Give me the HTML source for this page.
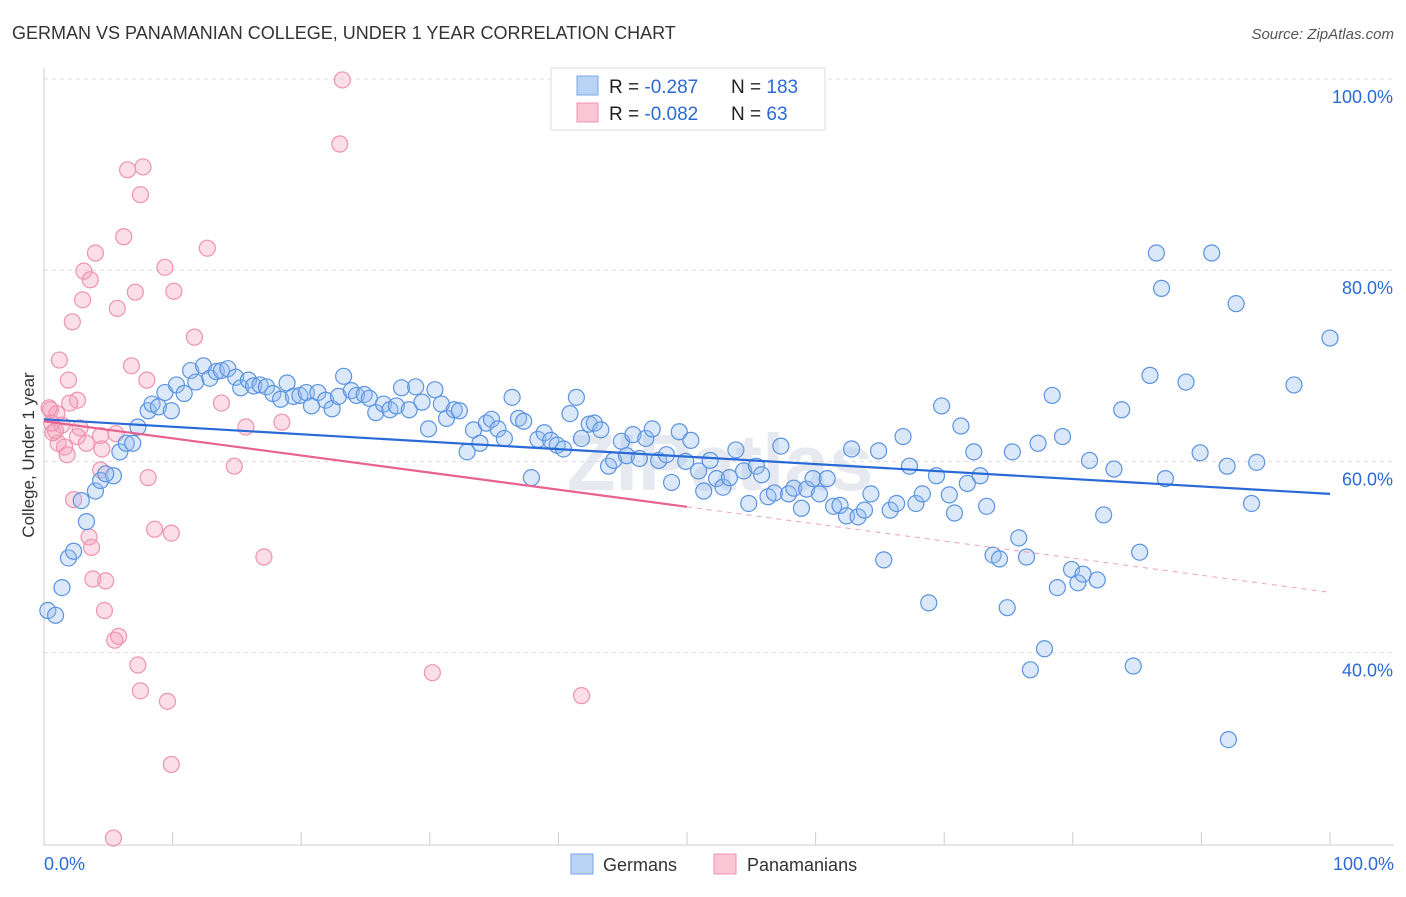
<!DOCTYPE html>
<html><head><meta charset="utf-8"><style>
body{margin:0;background:#fff;font-family:"Liberation Sans",sans-serif;}
svg text{font-family:"Liberation Sans",sans-serif;}
</style></head><body>
<svg id="chart" width="1406" height="892">
<text x="12" y="39" font-size="18" fill="#333">GERMAN VS PANAMANIAN COLLEGE, UNDER 1 YEAR CORRELATION CHART</text>
<text x="1394" y="39" font-size="15" fill="#555" font-style="italic" text-anchor="end">Source: ZipAtlas.com</text>
<text x="720" y="490" font-size="80" fill="#e6eaf0" text-anchor="middle" font-weight="bold">ZIPatlas</text>
<g id="grid"></g><g id="pts"></g><g id="lines"></g>
<text transform="translate(34,455) rotate(-90)" font-size="17" fill="#333" text-anchor="middle">College, Under 1 year</text>
<g>
<rect x="551" y="68" width="274" height="62" fill="#fff" stroke="#ddd"/>
<rect x="577" y="76" width="21" height="19" fill="#b9d3f5" stroke="#7aa6e6"/>
<rect x="577" y="103" width="21" height="19" fill="#f9c6d5" stroke="#ee93ae"/>
<text x="609" y="93" font-size="19" fill="#222">R = <tspan fill="#2a6ad6"> -0.287</tspan></text>
<text x="731" y="93" font-size="19" fill="#222">N = <tspan fill="#2a6ad6">183</tspan></text>
<text x="609" y="120" font-size="19" fill="#222">R = <tspan fill="#2a6ad6">-0.082</tspan></text>
<text x="731" y="120" font-size="19" fill="#222">N = <tspan fill="#2a6ad6">  63</tspan></text>
</g>
<g>
<rect x="571" y="854" width="22" height="20" fill="#b9d3f5" stroke="#7aa6e6"/>
<text x="603" y="871" font-size="18" fill="#333">Germans</text>
<rect x="714" y="854" width="22" height="20" fill="#f9c6d5" stroke="#ee93ae"/>
<text x="747" y="871" font-size="18" fill="#333">Panamanians</text>
</g>
</svg>
<script>
const blueX=[0.3,0.9,1.4,1.9,2.3,3.3,2.9,4.0,4.4,5.4,4.8,5.9,6.4,6.9,7.3,8.1,8.4,8.9,9.9,9.4,10.3,10.9,11.4,11.8,12.4,12.9,13.4,13.8,14.3,14.9,15.3,15.9,16.3,16.8,17.3,17.8,18.4,18.9,19.4,19.9,20.4,20.8,21.3,21.9,22.4,22.9,23.3,23.9,24.3,24.9,25.3,25.8,26.4,26.9,27.4,27.8,28.4,28.9,29.4,29.9,30.4,30.9,31.3,31.9,32.3,32.9,33.4,33.9,34.4,34.8,35.3,35.8,36.4,36.9,37.3,37.9,38.4,38.9,39.4,39.9,40.4,40.9,41.4,41.8,42.4,42.8,43.3,43.9,44.3,44.9,45.3,45.8,46.3,46.8,47.3,47.8,48.4,48.8,49.4,49.9,50.3,50.9,51.3,51.8,52.3,52.8,53.3,53.8,54.4,54.8,55.4,55.8,56.3,56.8,57.3,57.9,58.3,58.9,59.3,59.8,60.3,60.9,61.4,61.9,62.4,62.8,63.3,63.8,64.3,64.9,65.3,65.8,66.3,66.8,67.3,67.8,68.3,68.8,69.4,69.8,70.4,70.8,71.3,71.8,72.3,72.8,73.3,73.8,74.3,74.9,75.3,75.8,76.4,76.7,77.3,77.8,78.4,78.8,79.2,79.9,80.4,80.8,81.3,81.9,82.4,83.2,83.8,84.7,85.2,86.0,86.5,86.9,87.2,88.8,89.9,90.8,92.0,92.1,92.7,93.9,94.3,97.2,100];
const blueY=[44.4,43.9,46.8,49.9,50.6,53.7,55.9,56.9,58.0,58.5,58.7,61.0,61.9,61.9,63.6,65.3,66.0,65.7,65.3,67.2,68.0,67.1,69.5,68.3,70.0,68.7,69.4,69.5,69.7,68.8,67.7,68.5,67.9,68.0,67.8,67.1,66.5,68.2,66.8,66.9,67.2,65.8,67.2,66.4,65.5,66.8,68.9,67.4,66.9,67.0,66.6,65.1,66.0,65.4,65.8,67.7,65.4,67.8,66.2,63.4,67.5,66.0,64.5,65.4,65.3,61.0,63.3,61.9,64.0,64.4,63.4,62.4,66.7,64.5,64.2,58.3,62.3,63.0,62.2,61.7,61.3,65.0,66.7,62.4,63.9,64.0,63.3,59.5,60.1,62.1,60.6,62.8,60.3,62.4,63.4,60.1,60.7,57.8,63.1,60.0,62.2,59.0,56.9,60.1,58.2,57.3,58.3,61.2,59.0,55.6,59.5,58.6,56.3,56.7,61.6,56.6,57.2,55.1,57.1,58.2,56.6,58.2,55.3,55.4,54.3,61.3,54.2,54.9,56.6,61.1,49.7,54.9,55.6,62.6,59.5,55.6,56.6,45.2,58.5,65.8,56.5,54.6,63.7,57.7,61.0,58.5,55.3,50.2,49.8,44.7,61.0,52.0,50.0,38.2,61.9,40.4,66.9,46.8,62.6,48.7,47.3,48.2,60.1,47.6,54.4,59.2,65.4,38.6,50.5,69.0,81.8,78.1,58.2,68.3,60.9,81.8,59.5,30.9,76.5,55.6,59.9,68.0,72.9];
const pinkX=[23.2,23.0,7.7,6.5,7.5,6.2,12.7,4.0,9.4,3.1,3.6,7.1,10.1,3.0,5.7,2.2,11.7,1.2,6.8,1.9,8.0,2.6,2.0,13.8,0.5,1.0,18.5,2.8,15.7,1.4,0.7,2.6,4.4,5.6,1.1,3.3,4.5,1.6,1.8,14.8,4.4,8.1,2.3,8.6,9.9,3.5,3.7,17.1,3.8,4.8,4.7,5.8,5.5,7.3,30.2,7.5,41.8,9.6,9.9,5.4,0.4,0.6,0.9];
const pinkY=[99.9,93.2,90.8,90.5,87.9,83.5,82.3,81.8,80.3,79.9,79.0,77.7,77.8,76.9,76.0,74.6,73.0,70.6,70.0,68.5,68.5,66.4,66.1,66.1,65.4,65.0,64.1,63.5,63.6,63.8,63.0,62.6,62.7,62.9,61.9,61.9,61.3,61.5,60.7,59.5,59.1,58.3,56.0,52.9,52.5,52.1,51.0,50.0,47.7,47.5,44.4,41.7,41.3,38.7,37.9,36.0,35.5,34.9,28.3,20.6,65.6,64.0,63.2];
const yTicks=[100,80,60,40];
const xTickLabels=["0.0%","100.0%"];
const blueTrend=[64.4,56.6];
const pinkTrend=[64.2,46.3];
const pinkSolidEnd=50;
const NS="http://www.w3.org/2000/svg";
const sx=v=>44+v*12.86, sy=v=>79+(100-v)*9.56;
function mk(tag,attrs,parent){const e=document.createElementNS(NS,tag);for(const k in attrs)e.setAttribute(k,attrs[k]);parent.appendChild(e);return e;}
const grid=document.getElementById('grid');
yTicks.forEach(t=>{
 const l=mk('line',{x1:44,x2:1394,y1:sy(t),y2:sy(t),stroke:'#ddd','stroke-dasharray':'4,4'},grid);
 
 
 const tx=mk('text',{x:1393,y:sy(t)+24,'font-size':18,fill:'#2a6ad6','text-anchor':'end'},grid);
 tx.textContent=t.toFixed(1)+'%';
 
 
});
const ax=mk('line',{x1:44,x2:1394,y1:845,y2:845,stroke:'#ccc'},grid);


const ay=mk('line',{x1:44,x2:44,y1:68,y2:845,stroke:'#ccc'},grid);


for(let i=1;i<=10;i++){const tk=mk('line',{x1:sx(i*10),x2:sx(i*10),y1:832,y2:845,stroke:'#ccc'},grid);
 
 }
[[0,'start',44],[100,'end',1394]].forEach((d,i)=>{const t=mk('text',{x:d[2],y:870,'font-size':18,fill:'#2a6ad6','text-anchor':d[1]},grid);t.textContent=xTickLabels[i];
 
 });
const pts=document.getElementById('pts');
pinkX.forEach((x,i)=>{const c=mk('circle',{cx:sx(x),cy:sy(pinkY[i]),r:8,fill:'rgba(244,160,188,0.35)',stroke:'#ee93ae','stroke-width':1.2},pts);
 
 });
blueX.forEach((x,i)=>{const c=mk('circle',{cx:sx(x),cy:sy(blueY[i]),r:8,fill:'rgba(150,190,240,0.35)',stroke:'#5b93e0','stroke-width':1.2},pts);
 
 });
const lines=document.getElementById('lines');
const bl=mk('line',{x1:sx(0),y1:sy(blueTrend[0]),x2:sx(100),y2:sy(blueTrend[1]),stroke:'#2a6ad6','stroke-width':2.2},lines);


const pm=pinkTrend[0]+(pinkTrend[1]-pinkTrend[0])*pinkSolidEnd/100;
const pl=mk('line',{x1:sx(0),y1:sy(pinkTrend[0]),x2:sx(pinkSolidEnd),y2:sy(pm),stroke:'#e8628f','stroke-width':2.2},lines);


const pd=mk('line',{x1:sx(pinkSolidEnd),y1:sy(pm),x2:sx(100),y2:sy(pinkTrend[1]),stroke:'#f0a0ba','stroke-width':1,'stroke-dasharray':'5,5'},lines);


</script>
</body></html>
